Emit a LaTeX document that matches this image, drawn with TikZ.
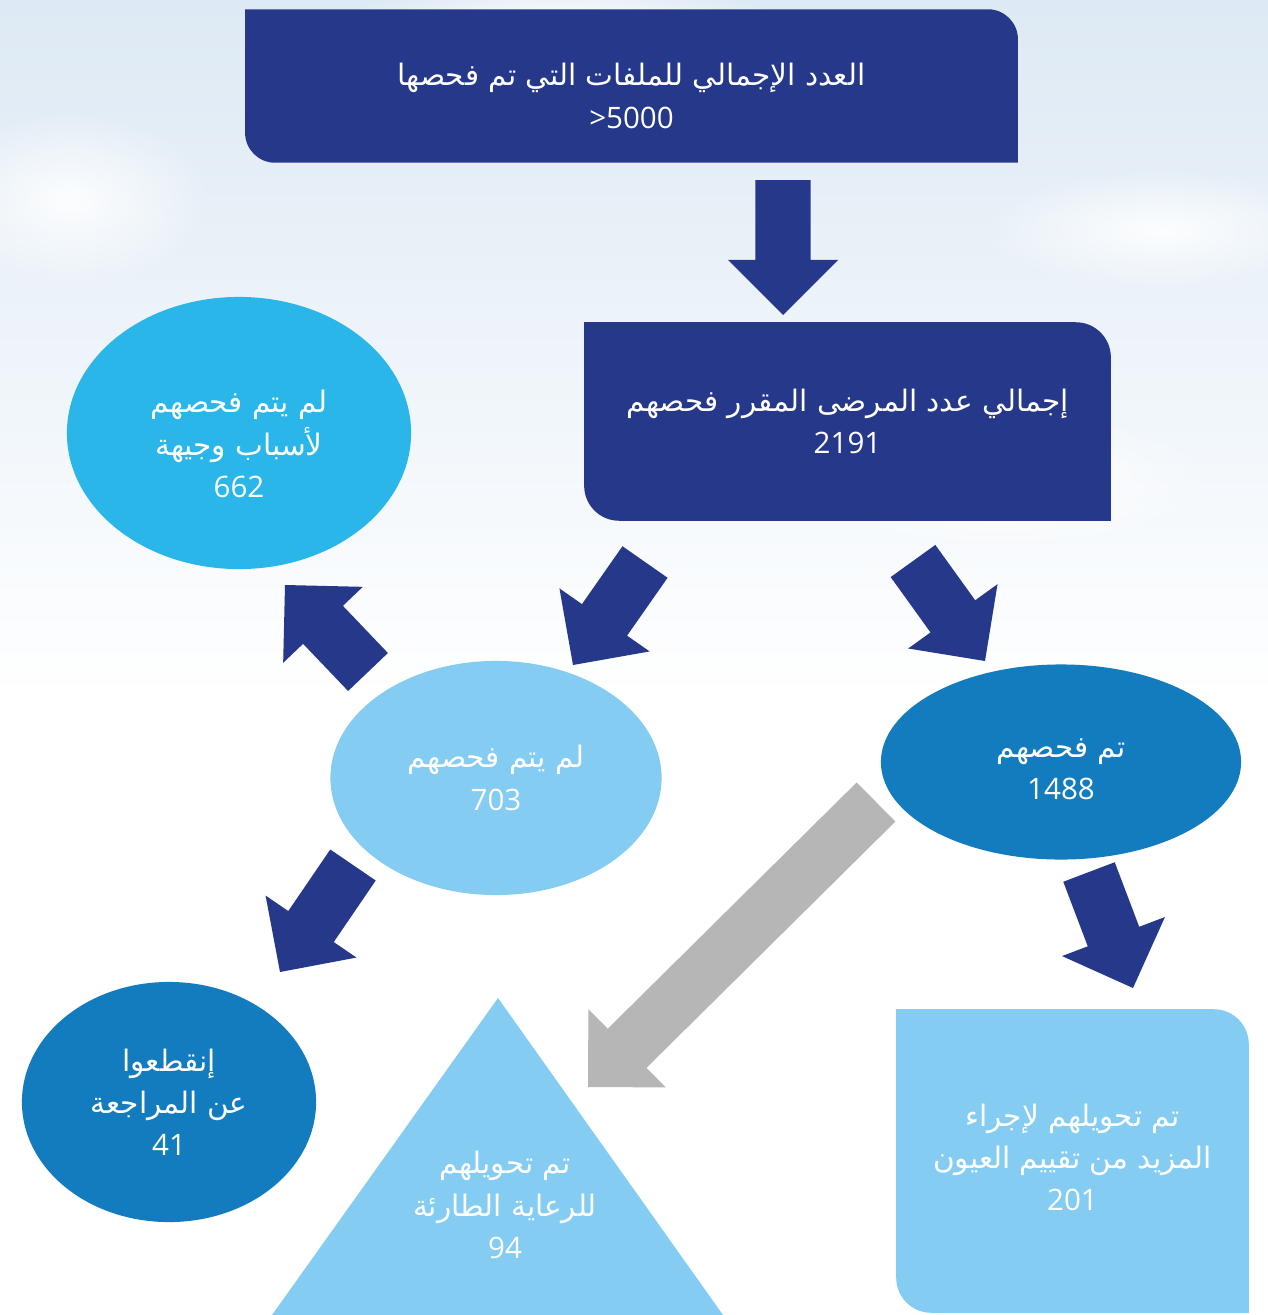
\documentclass[tikz,border=0pt]{standalone}
\usepackage{fontspec}
\usetikzlibrary{calc,backgrounds,shapes.geometric,fadings}
\TeXXeTstate=1
\newfontfamily\arabicfont[Script=Arabic]{DejaVu Sans}
\newfontfamily\numfont{Open Sans}

\definecolor{navy}{RGB}{38,56,138}
\definecolor{cyanblue}{RGB}{43,182,234}
\definecolor{paleblue}{RGB}{133,204,242}
\definecolor{midblue}{RGB}{19,124,191}
\definecolor{arrowgray}{RGB}{183,182,183}
\definecolor{sky}{RGB}{221,233,244}

\tikzfading[name=softcloud, inner color=transparent!10, outer color=transparent!100]

\newcommand{\artxt}[1]{{\arabicfont\beginR #1\endR}}
\newcommand{\nmbr}[1]{{\numfont #1}}
% leaf shaped fill behind a box node: node, radius, colour
\newcommand{\leaf}[3]{%
  \fill[#3] (#1.north west) -- ([xshift=-#2]#1.north east)
    arc[start angle=90, end angle=0, radius=#2] -- (#1.south east)
    -- ([xshift=#2]#1.south west)
    arc[start angle=270, end angle=180, radius=#2] -- cycle;}

\tikzset{
  lbl/.style={text=white, align=center, inner sep=0pt,
    font=\fontsize{8.4}{12}\selectfont},
  oval/.style={ellipse, fill=#1, lbl},
  cloud/.style={fill=white, path fading=softcloud},
  % block arrow, shaft 0.55cm, head 1.1cm wide and 0.55cm long
  bigarrow/.style={to path={
    ($(\tikztostart)!0.275cm!90:(\tikztotarget)$)
    -- ($($(\tikztotarget)!0.55cm!(\tikztostart)$)!0.275cm!-90:(\tikztostart)$)
    -- ($($(\tikztotarget)!0.55cm!(\tikztostart)$)!0.55cm!-90:(\tikztostart)$)
    -- (\tikztotarget)
    -- ($($(\tikztotarget)!0.55cm!(\tikztostart)$)!0.55cm!90:(\tikztostart)$)
    -- ($($(\tikztotarget)!0.55cm!(\tikztostart)$)!0.275cm!90:(\tikztostart)$)
    -- ($(\tikztostart)!0.275cm!-90:(\tikztotarget)$) -- cycle}}
}

\begin{document}
\begin{tikzpicture}[x=0.01cm,y=-0.01cm]
  \useasboundingbox (0,0) rectangle (1268,1315);

  % boxes
  \node[minimum width=7.71cm, minimum height=1.52cm, inner sep=0pt,
    label={[lbl, yshift=-0.1cm]center:{\artxt{العدد الإجمالي للملفات التي تم فحصها}\\ \nmbr{>5000}}}]
    (total) at (631.5,86) {};
  \node[lbl, minimum width=5.25cm, minimum height=1.97cm] (planned) at (847.5,421.5)
    {\artxt{إجمالي عدد المرضى المقرر فحصهم}\\ \nmbr{2191}};
  \node[minimum width=3.51cm, minimum height=3.02cm, inner sep=0pt,
    label={[lbl, yshift=0.035cm]center:{\artxt{تم تحويلهم لإجراء}\\ \artxt{المزيد من تقييم العيون}\\ \nmbr{201}}}]
    (referred) at (1072.5,1161) {};

  % ovals
  \node[oval=cyanblue, minimum width=3.44cm, minimum height=2.72cm,
    label={[lbl, yshift=-0.11cm]center:{\artxt{لم يتم فحصهم}\\ \artxt{لأسباب وجيهة}\\ \nmbr{662}}}]
    (valid) at (239,433) {};
  \node[oval=paleblue, minimum width=3.31cm, minimum height=2.34cm] (notexam) at (496,778)
    {\artxt{لم يتم فحصهم}\\ \nmbr{703}};
  \node[oval=midblue, minimum width=3.60cm, minimum height=1.95cm,
    label={[lbl, yshift=-0.07cm]center:{\artxt{تم فحصهم}\\ \nmbr{1488}}}]
    (examined) at (1061,762) {};
  \node[oval=midblue, minimum width=2.94cm, minimum height=2.40cm] (dropped) at (169,1102)
    {\artxt{إنقطعوا}\\ \artxt{عن المراجعة}\\ \nmbr{41}};

  % triangle
  \coordinate (emtop) at (498,998);
  \coordinate (emleft) at (272,1315);
  \coordinate (emright) at (723,1315);
  \node[lbl] (emergency) at (505,1205)
    {\artxt{تم تحويلهم}\\ \artxt{للرعاية الطارئة}\\ \nmbr{94}};

  \begin{scope}[on background layer]
    \fill[top color=sky, bottom color=white] (0,0) rectangle (1268,700);
    \fill[white] (0,700) rectangle (1268,1315);
    \fill[cloud] (70,200) ellipse [x radius=1.4cm, y radius=0.9cm];
    \fill[cloud] (1160,230) ellipse [x radius=1.8cm, y radius=0.6cm];
    \fill[cloud] (1000,480) ellipse [x radius=2.2cm, y radius=0.7cm];
    \fill[cloud] (560,20) ellipse [x radius=2.2cm, y radius=0.4cm];
    \leaf{total}{0.3cm}{navy}
    \leaf{planned}{0.35cm}{navy}
    \leaf{referred}{0.35cm}{paleblue}
    \fill[paleblue] (emtop) -- (emright) -- (emleft) -- cycle;
  \end{scope}

  % arrows
  \coordinate (a1s) at (783,180);  \coordinate (a1t) at (783,315);
  \coordinate (a2s) at (645,562);  \coordinate (a2t) at (573,665);
  \coordinate (a3s) at (913,561);  \coordinate (a3t) at (985,661);
  \coordinate (a4s) at (368,672);  \coordinate (a4t) at (285,585);
  \coordinate (a5s) at (353,865);  \coordinate (a5t) at (280,972);
  \coordinate (a6s) at (1089,872); \coordinate (a6t) at (1133,988);
  \coordinate (a7s) at (876,802);  \coordinate (a7t) at (588,1087);
  \fill[navy] (a1s) to[bigarrow] (a1t);
  \fill[navy] (a2s) to[bigarrow] (a2t);
  \fill[navy] (a3s) to[bigarrow] (a3t);
  \fill[navy] (a4s) to[bigarrow] (a4t);
  \fill[navy] (a5s) to[bigarrow] (a5t);
  \fill[navy] (a6s) to[bigarrow] (a6t);
  \fill[arrowgray] (a7s) to[bigarrow] (a7t);
\end{tikzpicture}
\end{document}
